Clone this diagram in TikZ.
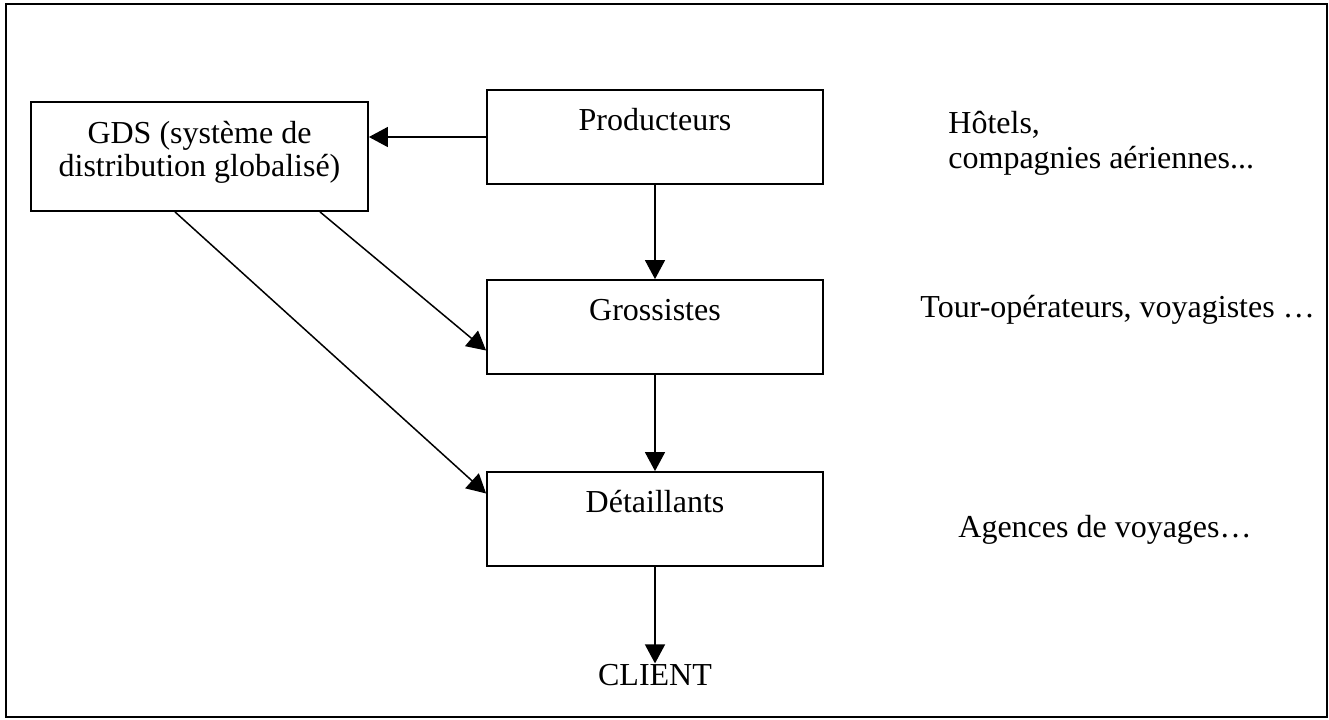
\documentclass[tikz,border=0pt]{standalone}
\usepackage{fontspec}
\setmainfont{Liberation Serif}
\usetikzlibrary{arrows.meta}

\begin{document}
\begin{tikzpicture}[x=0.5pt, y=-0.5pt, >={Triangle[length=9.5pt,width=10pt]},
  every node/.style={font=\fontsize{16}{16.5}\selectfont},
  box/.style={draw, line width=0.9pt, minimum width=168pt, inner sep=0pt,
    text height=20pt, text depth=27pt},
  note/.style={align=left, inner sep=0pt, font=\fontsize{16}{17.5}\selectfont},
  arr/.style={->, line width=0.75pt}]

\useasboundingbox (0,0) rectangle (1329,719);

%------------------ FRAME ------------------%
\draw[line width=0.9pt] (6,4) rectangle (1327,717);

%------------------ CHAIN ------------------%
\node[box, anchor=base] (prod) at (655,130) {Producteurs};
\node[box, anchor=base] (gros) at (655,320) {Grossistes};
\node[box, anchor=base] (det)  at (655,512) {Détaillants};
\node[anchor=base, inner sep=0pt] (client) at (655,685) {CLIENT};

% GDS box
\node[draw, line width=0.9pt, minimum width=168.5pt, minimum height=54.5pt,
  align=center, inner sep=0pt] (gds) at (199.5,156.5)
  {GDS (système de\\distribution globalisé)\rule[-8pt]{0pt}{1pt}};

\draw[arr] (prod.west) -- (prod.west -| gds.east);
\draw[arr] (prod) -- (gros);
\draw[arr] (gros) -- (det);
\draw[arr] (det) -- (client);

\draw[arr] ([xshift=60.25pt]gds.south) -- ([yshift=-11.75pt]gros.west);
\draw[arr] ([xshift=-12.25pt]gds.south) -- ([yshift=12.75pt]det.west);

%------------------ EXAMPLES ------------------%
\node[note, anchor=base west] (hotels) at (948,168)
  {Hôtels,\\compagnies aériennes...};
\node[note, anchor=base west] (tour) at (920,317)
  {Tour-opérateurs, voyagistes …};
\node[note, anchor=base west] (agences) at (958,537)
  {Agences de voyages…};

\end{tikzpicture}
\end{document}
